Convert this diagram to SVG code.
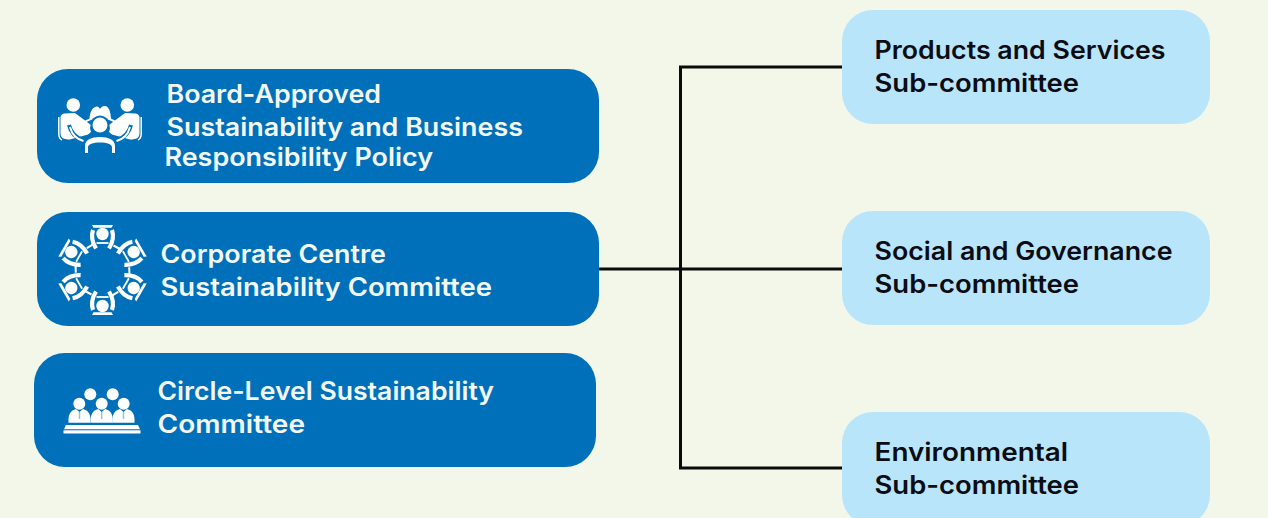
<svg xmlns="http://www.w3.org/2000/svg" width="1268" height="518" viewBox="0 0 1268 518">
<style>
.bg{fill:#f3f7ea}
.blue{fill:#0070ba}
.light{fill:#b9e5fb}
.t{font-family:"Inter","Liberation Sans",sans-serif;font-size:25px;font-weight:600}
.w{fill:#f4f8f4}
.k{fill:#0c0c14}
.ic{fill:#fff}
.ln{fill:none;stroke:#fff}
.con{fill:none;stroke:#0a0a0a;stroke-width:3}
</style>
<defs>
<g id="seat">
<circle cx="0" cy="-36" r="6.200" class="ic"/>
<path class="ic" d="M-10.500-45H10.500L9-42.300H-9Z"/>
<path class="ln" stroke-width="4.200" d="M-9.500-40C-11.500-34-10.500-28-6.500-21.500M9.500-40C11.500-34 10.500-28 6.500-21.500"/>
<path class="ln" stroke-width="1.800" d="M-6-27H6"/>
<path class="ln" stroke-width="2" d="M11-24.500L17.500-21"/>
</g>
<g id="suit">
<path class="ic" d="M-11 422.700C-11.500 414-9 410.500-3.500 409L0 412L3.500 409C9 410.500 11.500 414 11 422.700Z"/>
<path d="M0 412V419" stroke="#8fc2e6" stroke-width="1.500" fill="none"/>
</g>
</defs>
<rect class="bg" width="1268" height="518"/>
<g id="connectors">
<path class="con" d="M842 67H680.500V468H842"/>
<path class="con" d="M598 269H842"/>
</g>
<g id="node-board">
<rect class="blue" x="37" y="69" width="562" height="114" rx="31"/>
<g>
<path class="ic" d="M80 121.700C84 121 87 120 89.500 118.500C90 110 94 106.500 97 106.500C98.500 106.500 99.500 108 100 109C100.500 108 102 106 105 106C108 106 110.500 110 111 118.500C113.500 120 116 121 120 121.700L118 124L100 116L82 124Z"/>
<circle class="ic" cx="73.300" cy="105" r="6.800"/>
<circle class="ic" cx="127.300" cy="105" r="6.800"/>
<path class="ic" d="M65 113.500L75 113L91 125L90 128L91 132L88 134.500L70 139.500C63 139.500 60.500 137.500 60.500 133V117.500C60.500 115 63 113.500 65 113.500Z"/>
<path class="ic" d="M135 113.500L125 113L109 125L110 128L109 132L112 134.500L130 139.500C137 139.500 139.500 137.500 139.500 133V117.500C139.500 115 137 113.500 135 113.500Z"/>
<path class="ln" stroke-width="1.500" d="M58.800 117V134C58.800 137 60 139 62 140M141.200 117V134C141.200 137 140 139 138 140"/>
<circle cx="100" cy="125" r="9.500" class="blue"/>
<circle class="ic" cx="100" cy="125" r="7.500"/>
<path d="M69 125C71 134 76 138 84 140.500M131 125C129 134 124 138 116 140.500" fill="none" stroke="#0070ba" stroke-width="4"/>
<path class="ln" stroke-width="2" d="M70 127C72 135 76 139 83.500 141M130 127C128 135 124 139 116.500 141"/>
<path class="ic" d="M85 153V146C85 140 91 137 100 137C109 137 115 140 115 146V153H112V147.500C112 144 107 142.500 100 142.500C93 142.500 88 144 88 147.500V153Z"/>
</g>
<text class="t w" x="166.500" y="103" textLength="214.500" lengthAdjust="spacingAndGlyphs">Board-Approved</text>
<text class="t w" x="166.500" y="136" textLength="356.500" lengthAdjust="spacingAndGlyphs">Sustainability and Business</text>
<text class="t w" x="164.500" y="166" textLength="268.500" lengthAdjust="spacingAndGlyphs">Responsibility Policy</text>
</g>
<g id="node-corporate">
<rect class="blue" x="37" y="212" width="562" height="114" rx="31"/>
<g transform="translate(102.500 270)">
<use href="#seat"/>
<use href="#seat" transform="rotate(60)"/>
<use href="#seat" transform="rotate(120)"/>
<use href="#seat" transform="rotate(180)"/>
<use href="#seat" transform="rotate(240)"/>
<use href="#seat" transform="rotate(300)"/>
</g>
<text class="t w" x="160.500" y="263" textLength="225.500" lengthAdjust="spacingAndGlyphs">Corporate Centre</text>
<text class="t w" x="160.500" y="296" textLength="331.500" lengthAdjust="spacingAndGlyphs">Sustainability Committee</text>
</g>
<g id="node-circle">
<rect class="blue" x="34" y="353" width="562" height="114" rx="31"/>
<g>
<circle class="ic" cx="90.300" cy="394.300" r="6"/>
<circle class="ic" cx="112.700" cy="394.300" r="6"/>
<use href="#suit" x="79.500"/>
<use href="#suit" x="101.700"/>
<use href="#suit" x="123.500"/>
<circle class="ic" cx="79.300" cy="403.700" r="6"/>
<circle class="ic" cx="101.700" cy="403.700" r="6"/>
<circle class="ic" cx="123.700" cy="403.700" r="6"/>
<path class="ic" d="M66 425H138L140 429.300H64Z"/>
<rect class="ic" x="63.500" y="430.300" width="77" height="3.200"/>
</g>
<text class="t w" x="157.500" y="400" textLength="336.500" lengthAdjust="spacingAndGlyphs">Circle-Level Sustainability</text>
<text class="t w" x="157.500" y="433" textLength="147.500" lengthAdjust="spacingAndGlyphs">Committee</text>
</g>
<g id="node-products">
<rect class="light" x="842" y="10" width="368" height="114" rx="31"/>
<text class="t k" x="874.500" y="59" textLength="291" lengthAdjust="spacingAndGlyphs">Products and Services</text>
<text class="t k" x="874.500" y="92" textLength="204.500" lengthAdjust="spacingAndGlyphs">Sub-committee</text>
</g>
<g id="node-social">
<rect class="light" x="842" y="211" width="368" height="114" rx="31"/>
<text class="t k" x="874.500" y="260" textLength="298" lengthAdjust="spacingAndGlyphs">Social and Governance</text>
<text class="t k" x="874.500" y="293" textLength="204.500" lengthAdjust="spacingAndGlyphs">Sub-committee</text>
</g>
<g id="node-environmental">
<rect class="light" x="842" y="412" width="368" height="114" rx="31"/>
<text class="t k" x="874.500" y="461" textLength="193.500" lengthAdjust="spacingAndGlyphs">Environmental</text>
<text class="t k" x="874.500" y="494" textLength="204.500" lengthAdjust="spacingAndGlyphs">Sub-committee</text>
</g>
</svg>
